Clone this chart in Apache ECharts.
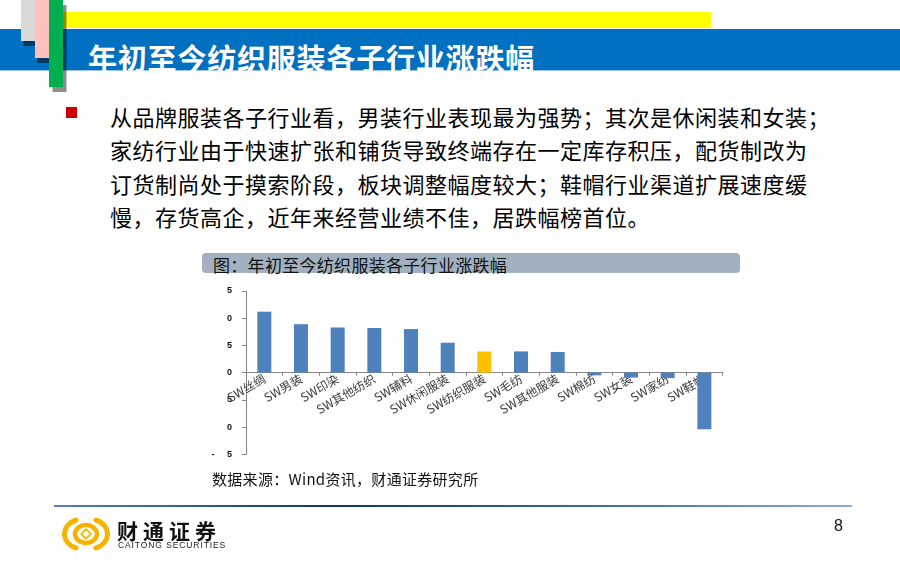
<!DOCTYPE html>
<html>
<head>
<meta charset="utf-8">
<script src="https://cdn.jsdelivr.net/npm/echarts@6/dist/echarts.min.js"></script>
<style>
  html,body{margin:0;padding:0;background:#fff;}
  #page{position:relative;width:900px;height:562px;overflow:hidden;background:#fff;font-family:"Noto Sans CJK SC","Noto Sans",sans-serif;}
  .abs{position:absolute;}
  .line{position:absolute;left:110px;font-size:22px;line-height:33.5px;height:33.5px;color:#000;white-space:nowrap;letter-spacing:0.5px;}
</style>
</head>
<body>
<div id="page">
  <!-- header decorations -->
  <div class="abs" style="left:62px;top:11.7px;width:649px;height:16.6px;background:#ffff00;"></div>
  <div class="abs" style="left:0;top:29.3px;width:900px;height:40.7px;background:#0070c0;border-bottom:1px solid #9dc3e6;"></div>
  <div class="abs" style="left:21px;top:0;width:14px;height:40.7px;background:#d9d9d9;box-shadow:2.5px 5px 0 rgba(0,0,0,0.5);"></div>
  <div class="abs" style="left:35px;top:0;width:14px;height:58.3px;background:#ffc0c0;box-shadow:2.5px 5px 0 rgba(0,0,0,0.5);"></div>
  <div class="abs" style="left:49px;top:0;width:13.7px;height:87.3px;background:#00b050;box-shadow:3.5px 5px 0 rgba(0,0,0,0.45);"></div>
  <div class="abs" id="hdr" style="left:88px;top:40px;font-size:29px;line-height:34px;font-weight:bold;color:#fff;letter-spacing:0.8px;white-space:nowrap;"></div>

  <!-- bullet + body -->
  <div class="abs" style="left:66px;top:107px;width:11px;height:11px;background:#cc0000;"></div>
  <div id="body"></div>

  <!-- chart title box -->
  <div class="abs" style="left:202px;top:253.3px;width:538px;height:19.5px;background:#a2b1c0;border-radius:4px;"></div>
  <div class="abs" id="ctitle" style="left:213px;top:255px;font-size:17px;line-height:20px;color:#111;letter-spacing:0.3px;white-space:nowrap;"></div>

  <div class="abs" id="chart" style="left:0;top:0;width:900px;height:562px;"></div>

  <div class="abs" id="src" style="left:212px;top:470px;font-size:15px;line-height:18px;color:#111;white-space:nowrap;letter-spacing:0.3px;"></div>

  <!-- footer -->
  <div class="abs" style="left:54px;top:504.5px;width:798px;height:2px;background:linear-gradient(to right,#5b7fb5 0%,#17375e 35%,#3f6396 65%,#8eaadb 100%);"></div>
  <svg class="abs" style="left:62px;top:517px;" width="48" height="34" viewBox="0 0 48 34">
    <g fill="none" stroke="#f5b400" stroke-linecap="round">
      <path d="M14 3 A18 15 0 0 0 14 31" stroke-width="5"/>
      <path d="M34 3 A18 15 0 0 1 34 31" stroke-width="5"/>
      <ellipse cx="24" cy="17" rx="11" ry="9" stroke-width="4.5"/>
    </g>
    <path d="M24 11 L30 17 L24 23 L18 17 Z" fill="#f5b400"/>
    <path d="M24 13.5 L27.5 17 L24 20.5 L20.5 17 Z" fill="#fff"/>
  </svg>
  <div class="abs" id="logo1" style="left:117px;top:518px;font-size:21px;line-height:24px;font-weight:bold;color:#111;letter-spacing:5px;white-space:nowrap;"></div>
  <div class="abs" id="logo2" style="left:118px;top:540px;font-size:8.5px;line-height:10px;color:#222;letter-spacing:0.9px;font-family:'Liberation Sans',Arial,sans-serif;white-space:nowrap;"></div>
  <div class="abs" id="pg" style="left:834px;top:517px;font-size:16px;line-height:18px;color:#111;font-family:'Liberation Sans',Arial,sans-serif;"></div>
</div>
<script>
// ---- texts ----
var headerTitle = '年初至今纺织服装各子行业涨跌幅';
var bodyLines = [
  '从品牌服装各子行业看，男装行业表现最为强势；其次是休闲装和女装；',
  '家纺行业由于快速扩张和铺货导致终端存在一定库存积压，配货制改为',
  '订货制尚处于摸索阶段，板块调整幅度较大；鞋帽行业渠道扩展速度缓',
  '慢，存货高企，近年来经营业绩不佳，居跌幅榜首位。'
];
var chartTitle = '图：年初至今纺织服装各子行业涨跌幅';
var sourceText = '数据来源：Wind资讯，财通证券研究所';
var logoCn = '财通证券';
var logoEn = 'CAITONG SECURITIES';
var pageNo = '8';

// ---- chart data ----
var categories = ['SW丝绸','SW男装','SW印染','SW其他纺织','SW辅料','SW休闲服装','SW纺织服装','SW毛纺','SW其他服装','SW棉纺','SW女装','SW家纺','SW鞋帽'];
var values = [11.2, 8.9, 8.3, 8.2, 8.0, 5.5, 3.9, 3.9, 3.8, -0.5, -0.9, -1.0, -10.4];
var highlightCategory = 'SW纺织服装';
var yTickValues = [-15, -10, -5, 0, 5, 10, 15];
var yTickLabels = ['-     5', '0', '5', '0', '5', '0', '5'];

document.getElementById('hdr').textContent = headerTitle;
document.getElementById('ctitle').textContent = chartTitle;
document.getElementById('src').textContent = sourceText;
document.getElementById('logo1').textContent = logoCn;
document.getElementById('logo2').textContent = logoEn;
document.getElementById('pg').textContent = pageNo;
var body = document.getElementById('body');
bodyLines.forEach(function (t, i) {
  var d = document.createElement('div');
  d.className = 'line';
  d.style.top = (99.5 + i * 33.5) + 'px';
  d.textContent = t;
  body.appendChild(d);
});

var gridHeight = 163.3;
var chart = echarts.init(document.getElementById('chart'), null, {renderer: 'canvas'});
chart.setOption({
  backgroundColor: 'transparent',
  animation: false,
  grid: {left: 246, top: 291, width: 476.7, height: gridHeight, containLabel: false},
  xAxis: {
    type: 'category',
    data: categories,
    boundaryGap: true,
    position: 'bottom',
    offset: -gridHeight / 2,
    axisLine: {onZero: false, lineStyle: {color: '#868686', width: 1}},
    axisTick: {show: true, length: 3, inside: false, lineStyle: {color: '#868686'}},
    axisLabel: {
      interval: 0, rotate: 30, margin: 5,
      fontSize: 12, color: '#3a3a3a',
      fontFamily: '"Noto Sans CJK SC", sans-serif'
    },
    splitLine: {show: false}
  },
  yAxis: {
    type: 'value',
    min: -15, max: 15, interval: 5,
    axisLine: {show: true, lineStyle: {color: '#868686', width: 1}},
    axisTick: {show: true, length: 4, lineStyle: {color: '#868686'}},
    splitLine: {show: false},
    axisLabel: {
      margin: 14, fontSize: 9, fontWeight: 'bold', color: '#111',
      fontFamily: '"Liberation Sans", Arial, sans-serif',
      formatter: function (v) {
        var i = yTickValues.indexOf(v);
        return i >= 0 ? yTickLabels[i] : '';
      }
    }
  },
  series: [{
    type: 'bar',
    barWidth: 14,
    data: values.map(function (v, i) {
      return {
        value: v,
        itemStyle: {color: categories[i] === highlightCategory ? '#ffc000' : '#4f81bd'}
      };
    })
  }]
});
</script>
</body>
</html>
